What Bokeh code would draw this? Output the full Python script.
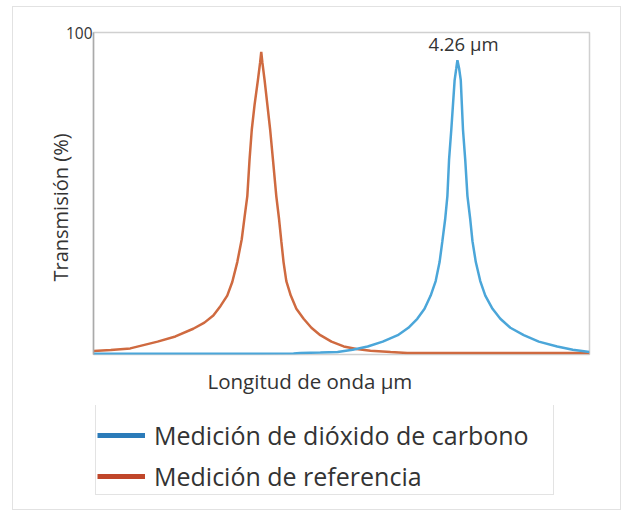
from bokeh.plotting import figure
from bokeh.layouts import column
from bokeh.models import Range1d, FixedTicker, Legend, LegendItem, Title, Label
from bokeh.embed import file_html
from bokeh.resources import INLINE

# ---- data ----
ref_wavelength = [3.610, 3.641, 3.676, 3.725, 3.757, 3.789, 3.809, 3.825, 3.838,
                  3.850, 3.859, 3.868, 3.876, 3.881, 3.886, 3.890, 3.894, 3.899,
                  3.905, 3.909, 3.911, 3.913, 3.917, 3.922, 3.927, 3.932, 3.938,
                  3.943, 3.947, 3.951, 3.956, 3.964, 3.974, 3.987, 4.001, 4.017,
                  4.037, 4.059, 4.082, 4.107, 4.143, 4.173, 4.500]
ref_transmission = [1.1, 1.4, 1.9, 4.0, 5.6, 8.0, 9.9, 12.1, 15.1,
                    18.3, 22.5, 28.7, 35.8, 42.6, 49.2, 60.5, 69.8, 77.5,
                    85.2, 90.7, 94.0, 90.7, 85.2, 77.5, 69.8, 60.5, 49.2,
                    42.0, 35.2, 28.7, 22.8, 18.3, 14.2, 11.1, 8.3, 6.0,
                    4.0, 2.5, 1.7, 1.2, 0.8, 0.5, 0.5]

co2_wavelength = [3.610, 3.802, 3.969, 3.981, 4.017, 4.048, 4.075, 4.102, 4.129,
                  4.156, 4.175, 4.191, 4.204, 4.215, 4.224, 4.231, 4.236, 4.241,
                  4.245, 4.248, 4.252, 4.255, 4.258, 4.261, 4.263, 4.266, 4.269,
                  4.271, 4.273, 4.277, 4.281, 4.286, 4.290, 4.296, 4.304, 4.313,
                  4.326, 4.340, 4.358, 4.382, 4.409, 4.442, 4.470, 4.500]
co2_transmission = [0.2, 0.2, 0.3, 0.5, 0.6, 0.8, 1.5, 2.5, 4.0,
                    6.0, 8.3, 11.1, 14.2, 18.3, 22.8, 28.7, 35.2, 42.0,
                    49.2, 60.5, 69.8, 77.5, 85.2, 88.9, 91.4, 88.9, 85.2,
                    77.5, 69.8, 60.5, 49.2, 42.0, 35.2, 28.7, 22.8, 18.3,
                    14.2, 11.1, 8.3, 6.0, 4.0, 2.5, 1.5, 0.8]

y_ticks = [100]
y_tick_labels = {100: "100"}
series_names = ["Medición de dióxido de carbono", "Medición de referencia"]
peak_text = "4.26 µm"
peak_text_x = 4.274
peak_text_y = 96.5
x_title = "Longitud de onda µm"
y_title = "Transmisión (%)"

FONT = "Open Sans"
TXT = "#333333"

# ---- chart ----
p = figure(width=607, height=398, output_backend="svg", toolbar_location=None,
           x_range=Range1d(3.61, 4.50), y_range=Range1d(0, 100),
           min_border_left=80, min_border_right=31, min_border_top=25,
           min_border_bottom=49, background_fill_color="white",
           border_fill_color="white")

p.xgrid.visible = False
p.ygrid.visible = False
p.xaxis.visible = False
p.outline_line_color = "#d0d0d0"
p.outline_line_width = 1.5

p.yaxis.ticker = FixedTicker(ticks=y_ticks)
p.yaxis.major_label_overrides = y_tick_labels
p.yaxis.major_tick_line_color = None
p.yaxis.minor_tick_line_color = None
p.yaxis.axis_line_color = "#aaaaaa"
p.yaxis.axis_line_width = 1.5
p.yaxis.major_label_text_font = FONT
p.yaxis.major_label_text_font_size = "15.5px"
p.yaxis.major_label_text_color = TXT
p.yaxis.major_label_standoff = -5

p.line(ref_wavelength, ref_transmission, color="#cf6a40", line_width=2.5)
p.line(co2_wavelength, co2_transmission, color="#4ba6d9", line_width=2.5)

p.add_layout(Label(x=peak_text_x, y=peak_text_y, text=peak_text,
                   text_align="center", text_baseline="middle",
                   text_font=FONT, text_font_size="18.5px", text_color=TXT))

p.add_layout(Title(text=x_title, align="left", offset=114, standoff=21,
                   text_font=FONT, text_font_size="20.5px",
                   text_font_style="normal", text_color=TXT), "below")
p.add_layout(Title(text=y_title, align="left", offset=73, standoff=-23,
                   text_font=FONT, text_font_size="20px",
                   text_font_style="normal", text_color=TXT), "left")

# ---- legend panel ----
q = figure(width=607, height=104, output_backend="svg", toolbar_location=None,
           x_range=Range1d(0, 1), y_range=Range1d(0, 1),
           min_border=0, background_fill_color="white",
           border_fill_color="white")
q.xaxis.visible = False
q.yaxis.visible = False
q.xgrid.visible = False
q.ygrid.visible = False
q.outline_line_color = None

# one-point lines: nothing is drawn in the panel, only the legend swatches
leg_co2 = q.line([-1], [-1], color="#2b7bb9", line_width=5)
leg_ref = q.line([-1], [-1], color="#c0462a", line_width=5)
legend = Legend(items=[LegendItem(label=series_names[0], renderers=[leg_co2]),
                       LegendItem(label=series_names[1], renderers=[leg_ref])],
                location=(2, 14), orientation="vertical",
                title=" ", title_text_font_size="1px", title_standoff=14,
                label_text_font=FONT, label_text_font_size="25px",
                label_text_color=TXT, glyph_width=48, glyph_height=24,
                label_standoff=9, label_width=398, spacing=7, padding=1,
                border_line_color="#c8c8c8", border_line_width=1.5,
                background_fill_color="white", background_fill_alpha=1.0)
q.add_layout(legend, "center")

layout = column(p, q, spacing=0)
layout.margin = (7, 0, 0, 13)
layout.styles = {"outline": "1.5px solid #e2e2e2"}

open("out.html", "w").write(file_html(layout, INLINE))
